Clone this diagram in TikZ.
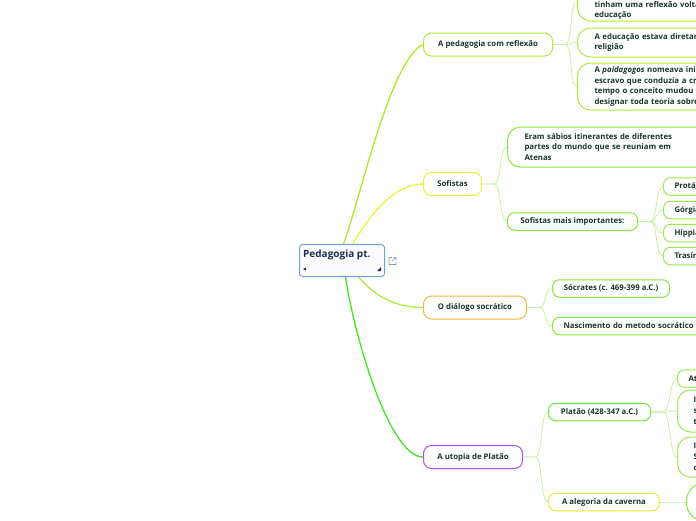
\documentclass[tikz,border=0pt]{standalone}
\usepackage{fontspec}
\setmainfont{Open Sans}
\usetikzlibrary{calc, backgrounds}
\definecolor{ink}{HTML}{1A3628}
\definecolor{rootink}{HTML}{1E2D4F}
\definecolor{rootline}{HTML}{6AA6DC}
\definecolor{iconline}{HTML}{8C9AAE}
\definecolor{reflexline}{HTML}{B6E636}
\definecolor{sofline}{HTML}{EEF034}
\definecolor{dialline}{HTML}{F7B440}
\definecolor{utopline}{HTML}{B050E6}
\definecolor{leafa}{HTML}{B2EA3A}
\definecolor{leafb}{HTML}{84E83C}
\definecolor{leafc}{HTML}{9EE850}
\definecolor{leafd}{HTML}{6CE83A}
\definecolor{leafe}{HTML}{EEEA3A}
\definecolor{linkgreen}{HTML}{C6F0A2}
\definecolor{rootlinka}{HTML}{AEE82A}
\definecolor{rootlinkb}{HTML}{EEF03A}
\definecolor{rootlinkc}{HTML}{A8EE40}
\definecolor{rootlinkd}{HTML}{40E820}
\newcommand\txt{\fontsize{7.8}{10.8}\selectfont\bfseries}
\newcommand\roottxt{\fontsize{10}{11}\selectfont\bfseries}

\begin{document}
\begin{tikzpicture}[
  x=1pt, y=-1pt,
  font=\txt, text=ink,
  rootbox/.style={draw=rootline, fill=blue!1, line width=1pt, rounded corners=3pt,
                  minimum width=85pt, minimum height=32pt, anchor=north west},
  topic/.style={draw, fill=white, line width=1pt, rounded corners=8pt, anchor=west,
                minimum height=23pt, inner xsep=0pt, inner ysep=0pt, align=center},
  leaf/.style={draw, fill=white, line width=1pt, rounded corners=7pt, anchor=west,
               minimum height=17.5pt, inner xsep=0pt, inner ysep=0pt, align=center},
  tag/.style={leaf, align=left, text width=60pt, inner xsep=11pt},
  para/.style={leaf, rounded corners=13pt, align=left, text width=150pt, inner xsep=17pt},
  rootlink/.style={line width=1.3pt},
  link/.style={line width=0.8pt, draw=linkgreen},
]
\useasboundingbox (0,0) rectangle (696,520);
\clip (0,0) rectangle (696,520);

% central topic
\node[rootbox, label={[anchor=north west, inner sep=0pt, xshift=4pt, yshift=-6pt,
      font=\roottxt, text=rootink]north west:Pedagogia pt.}] (root) at (299,244) {};
\fill[rootink] ($(root.south west)+(4,-8)$) -- ++(3,-1.5) -- ++(0,3) -- cycle;
\fill[rootink] ($(root.south east)+(-4,-10)$) -- ++(0,4) -- ++(-4,0) -- cycle;
\draw[iconline, line width=0.6pt] ($(root.east)+(7,-3)$) -- ++(-3,0) -- ++(0,7) -- ++(7,0) -- ++(0,-3)
  ($(root.east)+(7,1)$) -- ++(4,-4) ++(-2.5,0) -- ++(2.5,0) -- ++(0,2.5);

% main topics
\node[topic, draw=reflexline, minimum width=129pt] (reflex) at (423,44.5) {A pedagogia com reflexão};
\node[topic, draw=sofline, minimum width=58pt] (sof) at (423,184) {Sofistas};
\node[topic, draw=dialline, minimum width=103pt] (dial) at (423,307.5) {O diálogo socrático};
\node[topic, draw=utopline, minimum width=99pt] (utop) at (423,457) {A utopia de Platão};

% A pedagogia com reflexao
\node[para, draw=leafa, minimum height=38pt] (r1) at (577,2) {\mbox{}\\[12pt]tinham uma reflexão voltada\\educação};
\node[para, draw=leafa, minimum height=29pt] (r2) at (577,42.5) {A educação estava diretamente\\religião};
\node[para, draw=leafa, minimum height=47pt] (r3) at (577,86.5)
  {A \textit{paidagogos} nomeava inicialmente\\escravo que conduzia a criança\\tempo o conceito mudou\\designar toda teoria sobre};

% Sofistas
\node[para, draw=leafb, minimum height=40pt, text width=186pt] (s1) at (507,147)
  {Eram sábios itinerantes de diferentes\\partes do mundo que se reuniam em\\Atenas};
\node[leaf, draw=leafb, minimum width=130pt] (s2) at (507,221.5) {Sofistas mais importantes:};
\node[tag, draw=leafc] (prot) at (663,186.5) {Protágoras};
\node[tag, draw=leafc] (gorg) at (663,210) {Górgias};
\node[tag, draw=leafc] (hipp) at (663,233) {Híppias};
\node[tag, draw=leafc] (tras) at (663,256) {Trasímaco};

% O dialogo socratico
\node[leaf, draw=leafb, minimum width=117pt] (socr) at (552,288.5) {Sócrates (c. 469-399 a.C.)};
\node[tag, draw=leafb, text width=140pt] (nasc) at (552,326) {Nascimento do metodo socrático};

% A utopia de Platao
\node[leaf, draw=leafd, minimum width=102pt] (plat) at (548,412) {Platão (428-347 a.C.)};
\node[leaf, draw=leafe, minimum width=111pt] (aleg) at (548,502) {A alegoria da caverna};
\node[tag, draw=leafc] (pa) at (677,378.5) {At};
\node[para, draw=leafc, minimum height=42pt, text width=60pt, inner xsep=16pt] (pb) at (677,411) {I\\s\\t};
\node[para, draw=leafc, minimum height=40pt, text width=60pt, inner xsep=16pt] (pc) at (677,457) {I\\S\\\textit{a}};
\node[leaf, draw=leafb, rounded corners=18pt, minimum height=38pt, minimum width=80pt] (cave) at (686,502) {};

\begin{scope}[on background layer]
\draw[rootlink, draw=rootlinka] ($(root.north)+(1.5,0)$) .. controls (360,200) and (390,60) .. (reflex.west);
\draw[rootlink, draw=rootlinkb] ($(root.north)+(10.5,0)$) .. controls (372,212) and (395,184) .. (sof.west);
\draw[rootlink, draw=rootlinkc] ($(root.south)+(16.5,0)$) .. controls (375,296) and (395,307.5) .. (dial.west);
\draw[rootlink, draw=rootlinkd] ($(root.south)+(3.5,0)$) .. controls (355,340) and (390,457) .. (utop.west);
\foreach \a/\b in {reflex/r1, reflex/r2, reflex/r3, sof/s1, sof/s2, s2/prot, s2/gorg, s2/hipp, s2/tras,
                   dial/socr, dial/nasc, utop/plat, utop/aleg, plat/pa, plat/pb, plat/pc, aleg/cave}
  \draw[link] (\a.east) -- ++(12,0) .. controls +(8,0) and +(-8,0) .. (\b.west);
\end{scope}
\end{tikzpicture}
\end{document}
